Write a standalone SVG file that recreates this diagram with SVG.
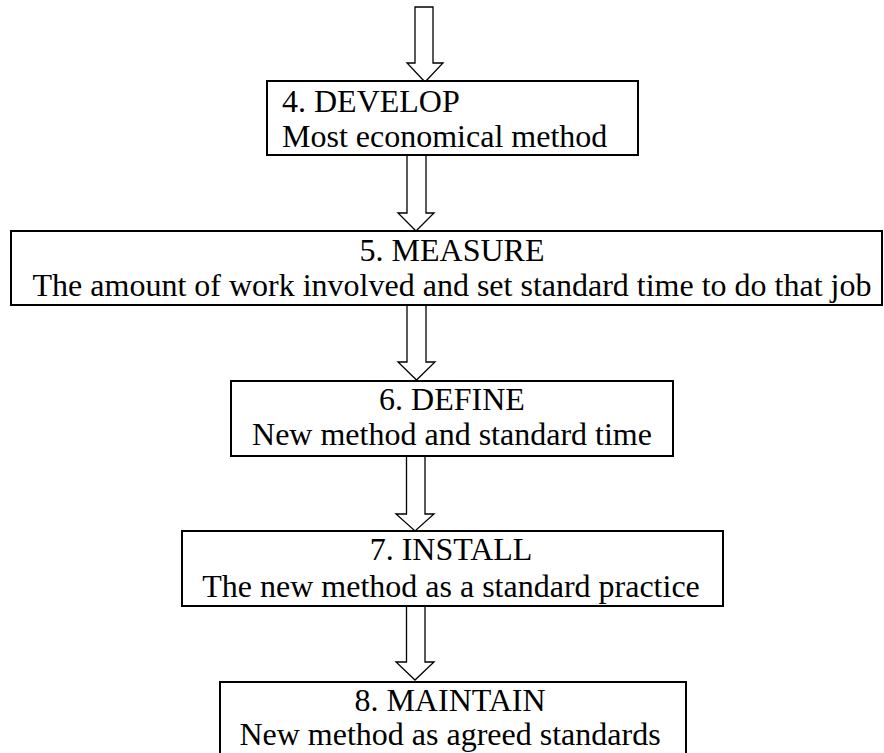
<svg xmlns="http://www.w3.org/2000/svg" width="884" height="753" viewBox="0 0 884 753">
  <style>
    .box { fill: #ffffff; stroke: #000000; stroke-width: 2; }
    .arrow { fill: #ffffff; stroke: #000000; stroke-width: 1.3; stroke-linejoin: miter; }
    .label { font-family: "Liberation Serif", "Times New Roman", serif; font-size: 32px; fill: #000000; }
    .mid { text-anchor: middle; }
  </style>
  <rect width="884" height="753" fill="#ffffff"/>

  <!-- block arrows between the steps -->
  <g id="connectors">
    <polygon class="arrow" points="415,7 433,7 433,63 443,63 425,82 407,63 415,63 415,7"/>
    <polygon class="arrow" points="407,155 426,155 426,213 434,213 416,231 398,213 407,213 407,155"/>
    <polygon class="arrow" points="407,305 426,305 426,362 435,362 416.5,380 398,362 407,362 407,305"/>
    <polygon class="arrow" points="406.5,456 425,456 425,514 434,514 415,531 396,514 406.5,514 406.5,456"/>
    <polygon class="arrow" points="406.5,606 425,606 425,662 434,662 415,680 396,662 406.5,662 406.5,606"/>
  </g>

  <g id="step4">
    <rect class="box" x="267" y="81" width="371" height="74"/>
    <text class="label" x="282" y="112">4. DEVELOP</text>
    <text class="label" x="282" y="147">Most economical method</text>
  </g>

  <g id="step5">
    <rect class="box" x="11" y="231" width="871" height="74"/>
    <text class="label mid" x="452" y="261">5. MEASURE</text>
    <text class="label mid" x="452" y="296">The amount of work involved and set standard time to do that job</text>
  </g>

  <g id="step6">
    <rect class="box" x="231" y="381" width="442" height="75"/>
    <text class="label mid" x="452" y="410">6. DEFINE</text>
    <text class="label mid" x="452" y="445">New method and standard time</text>
  </g>

  <g id="step7">
    <rect class="box" x="182" y="531" width="541" height="75"/>
    <text class="label mid" x="451" y="560">7. INSTALL</text>
    <text class="label mid" x="451" y="597">The new method as a standard practice</text>
  </g>

  <g id="step8">
    <rect class="box" x="220" y="682" width="466" height="80"/>
    <text class="label mid" x="450" y="711">8. MAINTAIN</text>
    <text class="label mid" x="450" y="745">New method as agreed standards</text>
  </g>
</svg>
